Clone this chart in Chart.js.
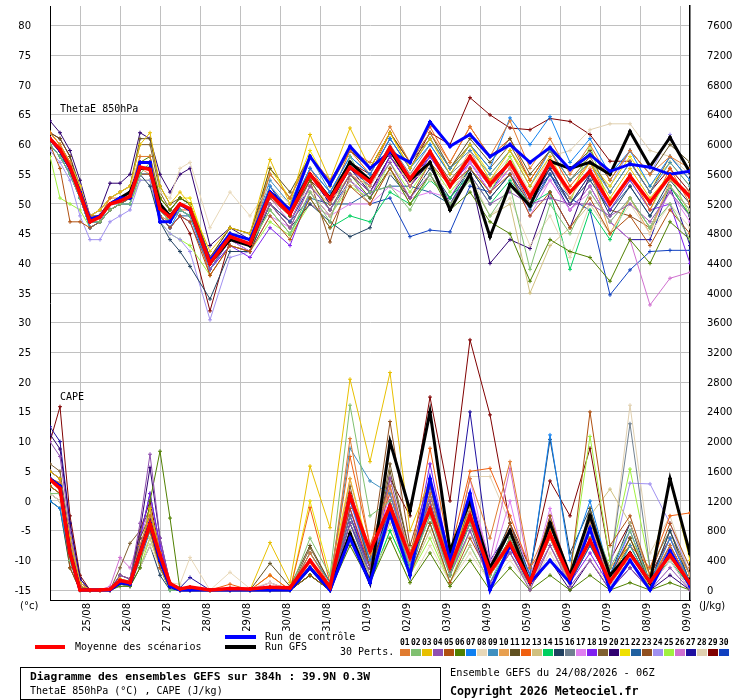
<!DOCTYPE html>
<html>
<head>
<meta charset="utf-8">
<script src="https://cdn.jsdelivr.net/npm/chart.js@4.4.0/dist/chart.umd.min.js"></script>
<style>
  body { margin: 0; background: #fff; }
  #wrap { width: 740px; height: 700px; }
</style>
</head>
<body>
<div id="wrap"><canvas id="gefs" width="740" height="700"></canvas></div>
<script>
// GEFS ensemble 24/08/2026 06Z, 39.9N 0.3W : ThetaE 850hPa (°C) and CAPE (J/kg)
// forecast hours (6h steps up to 84h, then 12h)
const hours = [0,6,12,18,24,30,36,42,48,54,60,66,72,78,84,96,108,120,132,144,156,168,180,192,204,216,228,240,252,264,276,288,300,312,324,336,348,360,372,384];
const dayHours = [18,42,66,90,114,138,162,186,210,234,258,282,306,330,354,378];
const dayLabels = ["25/08","26/08","27/08","28/08","29/08","30/08","31/08","01/09","02/09","03/09","04/09","05/09","06/09","07/09","08/09","09/09"];
const thetaTicks = [-15,-10,-5,0,5,10,15,20,25,30,35,40,45,50,55,60,65,70,75,80];
const capeTicks = [0,400,800,1200,1600,2000,2400,2800,3200,3600,4000,4400,4800,5200,5600,6000,6400,6800,7200,7600];

// mean, control, GFS
const thetaMean = [61,59.2,56.2,51.7,47,47.8,50,50.5,51.3,56.2,55.8,49.2,47.8,50,49.2,40,44.5,43.3,51.7,48.3,55,50.8,56.2,53.7,59.5,54.2,58.8,53,58,53.3,57,51.2,57,52,55.5,50,54.7,50.3,54.7,51.2];
const thetaCtrl = [61,59,56,52,47.5,48,50,51,51,57,57,47,47,50,49,40.5,45,44,52,49,58,53.3,59.7,56,58.8,57,63.8,59.7,61.7,58,60,57,59.5,55.8,58.3,55.5,56.7,56.2,55,55.5];
const thetaGfs = [61,59,56,52,47,48,50,51,52,56,56,50,48,50,49,40,44,43,52,49,55,51,57,54,59,54,57,49,55,44.5,53.3,49.7,57.2,56,57,55,62.2,56.3,61.2,55.3];
const capeMean = [1490,1370,500,0,0,0,10,130,100,490,890,470,90,15,40,0,20,15,40,30,400,40,1270,530,1130,440,1090,310,1000,240,630,110,760,160,670,110,490,110,470,90];
const capeCtrl = [1500,1400,500,0,0,0,0,100,80,500,900,400,50,0,0,0,0,0,0,0,300,0,700,100,1030,200,1500,400,1300,0,600,100,400,100,830,0,400,0,530,50];
const capeGfs = [1500,1400,500,0,0,0,0,100,80,500,900,400,50,0,0,0,0,0,0,0,300,0,760,100,2000,1070,2400,530,1200,300,800,100,900,200,1000,200,500,100,1500,490];

// perturbations ThetaE
const theta01 = [62,60,57,52,48,48,51,51,52,58,58,50,48,50,49, 41,45,44, 55,51,58,54,59,57,63,57,62,57, 63,58,64,56,61,55,60,54,59,55,58,56];
const theta02 = [60,58,55,51,47,47,49,50,50,55,57,49,47,49,48, 40,44,43, 49,45,52,47,58,52,53,49,55,50, 54,48,53,39,50,45,52,47,51,46,50,44];
const theta03 = [62,60,57,53,48,49,51,52,53,60,62,53,50,52,50, 42,46,45, 57.5,50,61.7,54,62.8,56,62,56,61,55, 60,54,59,53,58,52,57,51,56,51,55,51];
const theta04 = [61,59,56,52,47,48,50,51,51,57,57,50,48,50,49, 39,44,43, 50,46,53,49,55,52,57,51,55,50, 55,50,52,50,51,50,50,48,50,47,52,48];
const theta05 = [60,56,47,47,46,47,49,50,51,55,55,48,46,48,47, 38,43,42, 48,44,51,46,53,50,56,51,57,53, 56,52,55,48,52,46,51,45,48,43,49,45];
const theta06 = [61,59,57,52,48,48,50,51,52,57,58,51,49,51,50, 41,45,44, 52,48,54,49,55,51,56,50,55,49, 52,47,45,37,44,42,41,37,44,40,47,44];
const theta07 = [60,58,55,51,46,47,49,50,50,55,55,48,46,49,48, 39,44,43, 53,49,56,52,58,55,61,56,60,55, 60,56,64.5,60,64.7,57,61,55,59,53,58,54];
const theta08 = [61,59,57,53,48,49,51,52,53,58,58,52,51,56,57, 46,52,48, 53,50,52,51,53,54,55,55,54,53, 55,48,51,43,48,41,50,45,50,45,50,46];
const theta09 = [61,59,56,52,47,47,50,50,51,56,56,49,47,49,48, 40,45,44, 54,50,58,52,58,55,61,56,61,56, 59,55,59,53,59,54,57,52,57,52,57,53];
const theta10 = [62,60,57,52,47,48,50,51,51,56,55,48,47,50,49, 40,44,43, 50,46,53,50,55,53,59,53,59,53, 59,53,56,50,57,51,56,45,51,45,54,52];
const theta11 = [62,61,58,53,48,49,51,52,53,61,61,53,50,51,50, 41,46,45, 56,52,58,54,59,56,62,57,62,56, 61,57,61,55,59,56,59,54,59,55,60,57];
const theta12 = [61,59,56,52,47,48,50,51,52,56,56,50,47,49,49, 38,43,42, 52,48,56,51,59,55,62,57,63,57, 63,58,61,54,59,53,57,50,55,49,56,50];
const theta13 = [60,58,55,51,46,47,49,50,50,55,55,48,47,49,48, 39,44,43, 49,45,52,48,54,50,56,50,55,50, 54,48,50,35,43,46,50,45,51,46,53,49];
const theta14 = [60,58,56,51,47,47,49,50,51,55,55,49,47,49,48, 39,44,43, 49,45,51,46,48,47,52,50,54,51, 55,50,54,50,52,39,49,44,51,46,53,48];
const theta15 = [60,58,55,51,46,47,49,50,51,55,53,47,44,42,39.5, 34,42,42, 50,46,50,47,44.5,46,55,51,56,51, 56,51,55,50,56,50,55,48,53,48,54,50];
const theta16 = [61,59,56,52,47,48,50,51,51,56,56,49,47,50,49, 40,45,44, 53,49,56,52,57,54,60,55,60,55, 58,53,57,51,57,52,55,50,55,50,55,51];
const theta17 = [61,59,56,51,46,47,49,50,50,55,55,48,46,48,47, 40,44,42, 48,46,50,48,50,50,53,51,52,51, 57,52,56,48,54,49,52,47,51,46,52,47];
const theta18 = [60,58,55,51,47,47,49,50,50,55,55,48,47,49,48, 39,43,41, 46,43,52,48,54,51,58,53,58,53, 57,52,56,50,56,50,55,49,54,49,50,40];
const theta19 = [62,60,57,53,48,49,51,52,53,60,60,52,49,51,50, 41,46,45, 55,51,58,53,59,56,62,57,61,56, 60,56,60,54,59,54,58,52,57,52,58,54];
const theta20 = [64,62,59,54,48,49,53.5,53.5,55,62,61,55,52,55,56, 43,46,44, 53,48,55,50,56,52,58,53,57,50, 55,40,44,42.5,52,46,55,50,55,50,55,51];
const theta21 = [62,60,57,52,48,48,51,52,53,58,58,51,49,51,51, 41,45,44, 56,51,59,53,59,56,62,56,61,56, 60,55,59,54,59,54,57,53,58,53,57,53];
const theta22 = [61,59,56,51,46,47,49,50,51,55,55,48,46,48,48, 39,44,42, 50,47,51,50,50,52,53,53,52,50, 56,51,55,49,55,50,54,49,53,48,53,49];
const theta23 = [61,59,56,52,47,48,50,51,51,57,57,50,48,50,49, 40,44,43, 51,48,54,43.6,55,52,58,54,59,54, 58,54,57,51,56,50,54,49,48,46,53,48];
const theta24 = [59,57,54,48,44,44,47,48,49,54,54,47,45,44,42, 30.5,41,42, 50,46,53,49,55,52,58,53,58,53, 57,53,57,51,56,52,56,53,59,55,61.7,55];
const theta25 = [58,51,50,49,46,47,49,50,50,54,54,47,45,44,43, 38,43,42, 47,44.7,50,48,53,51,57,52,57,52, 56,52,58,51,56,50,60,49,54,49,55,48];
const theta26 = [60,58,55,51,47,47,49,50,51,56,56,49,47,49,48, 40,44,42, 51,47,54,49,55,52,58,53,58,53, 57,52,56,50,54,49,53,47,44,33,37.5,38.5];
const theta27 = [61,59,56,52,47,48,50,51,52,57,57,51,49,51,50, 41,45,44, 52,48,55,50,56,53,59,54,58,53, 58,53,57,51,55,49,53,47,44,44,53,43];
const theta28 = [61,59,56,52,47,48,50,51,52,57,57,50,48,50,49, 40,45,44, 52,48,55,51,56,54,59,54,59,54, 58,54,58,52,58,59,62.5,63.5,63.5,59,58,55];
const theta29 = [62,61,58,52,47,47,49,50,51,56,56,48,46,48,45, 32,44,43, 50,47,54,51,57,55,61,56,62,60, 67.9,65,62.8,62.5,64.4,63.9,61.7,57.2,57.2,52,56,52];
const theta30 = [60,58,55,51,46,47,49,50,50,55,55,48,46,48,47, 39,43,42, 50,47,53,49,54,50,51,44.5,45.6,45.3, 53,52,57,50,55,51,48.9,34.7,38.9,42,42.2,42.2];

// perturbations CAPE (J/kg)
const cape01 = [1500,1450,600,60,0,0,0,100,80,600, 1000,500,50,0,0,0,0,0,40,0, 500,60,2040,600,1400,400,1300,300,1500,700, 1730,300,900,100,800,150,500,100,600,100];
const cape02 = [1300,1300,400,0,0,0,0,80,60,400, 900,400,0,0,0,0,0,0,0,0, 700,200,2490,1000,1200,300,1000,200,900,200, 700,100,900,200,1000,300,800,100,500,50];
const cape03 = [1600,1500,700,100,0,0,0,150,100,500, 1100,500,100,0,0,0,0,0,640,100, 1670,840,2840,1730,2930,800,1500,300,1200,200, 600,100,800,100,700,100,400,50,500,100];
const cape04 = [2000,1800,800,100,0,0,20,200,150,900, 1830,700,100,0,0,0,0,0,0,0, 300,0,900,300,1510,400,1200,200,800,100, 500,0,600,50,400,0,300,0,300,0];
const cape05 = [1400,1300,300,0,0,0,0,100,80,500, 800,300,50,0,0,0,0,0,0,0, 200,0,1100,300,1000,200,900,100,700,200, 900,100,1000,200,2400,600,1000,200,900,300];
const cape06 = [1500,1400,600,50,0,0,0,50,50,300, 1200,1870,970,0,0,0,0,0,0,0, 200,0,600,100,700,100,500,50,400,0, 300,0,200,0,200,0,100,0,100,0];
const cape07 = [1200,1100,400,0,0,0,0,100,100,500, 900,400,50,0,0,0,0,0,0,0, 300,0,1200,400,1000,300,1300,400,1200,300, 800,200,2090,400,1200,200,800,100,700,100];
const cape08 = [1300,1200,500,50,0,0,0,150,100,300, 600,300,100,80,440,0,240,20,100,0, 300,50,600,200,700,100,600,100,500,100, 400,50,500,50,400,50,500,50,400,0];
const cape09 = [1500,1400,500,0,0,0,0,100,80,600, 900,400,0,0,0,0,0,0,0,0, 500,100,1910,1470,1300,400,1100,300,1000,200, 800,100,900,100,700,100,600,100,500,50];
const cape10 = [1400,1300,500,50,0,0,0,100,80,500, 800,300,0,0,0,0,0,0,0,0, 400,50,1500,400,1400,500,1300,300,1100,200, 600,100,700,100,900,200,400,50,700,200];
const cape11 = [1600,1500,600,50,0,0,0,200,150,700, 1000,500,100,0,0,0,0,0,360,50, 600,100,1300,300,1600,500,1200,300,1000,200, 700,100,800,100,1100,200,700,100,600,100];
const cape12 = [1500,1400,500,0,0,0,0,150,120,600, 900,400,50,0,0,0,80,0,200,0, 1110,100,1800,600,1300,400,1910,500,1600,1640, 1000,300,700,200,800,300,600,300,1000,1040];
const cape13 = [1300,1200,400,0,0,0,0,100,80,400, 700,300,50,0,0,0,0,0,0,0, 300,0,800,200,900,200,800,100,600,100, 500,50,600,100,1000,1360,900,200,500,100];
const cape14 = [1400,1300,500,50,0,0,0,100,80,500, 800,300,0,0,0,0,0,0,0,0, 200,0,700,100,800,200,900,100,600,100, 600,50,900,100,700,100,600,100,400,50];
const cape15 = [1200,1100,300,0,0,0,0,80,50,300, 600,200,0,0,0,0,0,0,0,0, 200,0,900,300,1000,300,1100,200,1200,300, 900,200,2030,500,1100,200,900,100,800,100];
const cape16 = [1400,1300,500,0,0,0,0,100,80,500, 900,400,50,0,0,0,0,0,0,0, 300,0,1000,200,1100,300,1000,200,1000,200, 700,100,1000,100,900,300,2240,300,800,100];
const cape17 = [1500,1400,600,50,0,0,0,150,100,600, 1000,400,50,0,0,0,0,0,100,0, 400,50,1200,300,1300,300,1300,300,1500,300, 1200,100,1100,100,900,100,800,100,700,100];
const cape18 = [1600,1500,700,100,0,0,0,150,100,700, 1300,600,100,0,0,0,0,0,0,0, 300,0,1100,200,1400,300,1700,400,1300,200, 700,100,600,100,500,50,500,50,400,0];
const cape19 = [1700,1600,700,100,0,0,0,300,630,800, 1100,500,100,0,0,0,0,0,0,0, 570,100,1400,300,1700,500,1400,300,1100,200, 800,100,900,100,1000,200,700,100,800,200];
const cape20 = [2100,1900,900,150,0,0,0,200,150,800, 1650,700,100,0,0,0,0,0,0,0, 200,0,800,200,1200,300,1300,300,900,100, 500,50,400,0,400,0,300,0,200,0];
const cape21 = [1400,1300,500,50,0,0,0,100,80,500, 900,400,50,0,0,0,0,0,200,0, 1200,200,1500,500,1300,300,1200,200,1000,200, 700,100,800,100,800,100,700,200,1490,400];
const cape22 = [1300,1200,400,0,0,0,0,80,60,400, 800,300,0,0,0,0,0,0,0,0, 200,0,900,200,1000,200,1100,200,900,200, 600,100,700,100,600,100,500,100,500,50];
const cape23 = [1500,1400,600,50,0,0,0,150,100,600, 1000,400,50,0,0,0,0,0,100,0, 500,100,1300,400,2270,600,1500,300,1100,200, 800,100,900,100,800,200,600,100,700,200];
const cape24 = [1300,1200,400,0,0,0,0,100,80,400, 800,300,0,0,0,0,0,0,0,0, 300,0,900,200,1000,200,900,200,800,100, 700,100,800,100,900,300,1440,1430,900,200];
const cape25 = [1200,1100,300,0,0,0,0,80,60,300, 700,300,0,0,0,0,0,0,0,0, 200,0,700,100,800,200,700,100,800,200, 600,100,700,200,2070,400,1630,300,800,100];
const cape26 = [1600,1500,700,100,0,0,50,440,300,700, 1100,500,50,0,0,0,0,0,200,0, 400,50,1100,300,1200,300,1100,200,1300,400, 1640,200,900,100,800,100,700,100,600,100];
const cape27 = [2200,2000,900,150,0,0,0,150,100,700, 1300,600,100,30,170,0,0,0,0,0, 300,0,1000,300,1100,300,1400,400,2400,400, 800,100,700,100,600,100,500,100,500,50];
const cape28 = [1300,1200,400,0,0,0,0,100,80,400, 700,300,50,0,0,0,0,0,0,0, 300,0,900,200,1000,200,900,200,1530,1530, 900,200,800,200,1000,300,2490,500,1000,200];
const cape29 = [2000,2470,1000,200,0,0,0,150,100,800, 1200,500,50,0,0,0,0,0,0,0, 400,0,1200,400,1500,1000,2600,1200,3370,2360, 900,300,1470,1000,1910,400,900,200,700,100];
const cape30 = [1400,1300,500,50,0,0,0,100,80,500, 900,400,50,0,0,0,0,0,0,0, 300,0,1000,300,1200,300,1300,300,1100,200, 700,100,800,100,700,100,500,50,600,100];

const pertColors = ["#e07b30","#80c070","#e8c000","#9050b0","#b05010","#508000","#1080f0","#e8d8b8","#4090c0","#e8a050",
                    "#605020","#f06010","#d0c080","#00d060","#204060","#708090","#e080f0","#8020f0","#806030","#300070",
                    "#f0e000","#2060a0","#905020","#a090f0","#a0f040","#d070d0","#2010a0","#e0d0b0","#800000","#1040c0"];

const thetaPerts = [theta01,theta02,theta03,theta04,theta05,theta06,theta07,theta08,theta09,theta10,theta11,theta12,theta13,theta14,theta15,
                    theta16,theta17,theta18,theta19,theta20,theta21,theta22,theta23,theta24,theta25,theta26,theta27,theta28,theta29,theta30];
const capePerts = [cape01,cape02,cape03,cape04,cape05,cape06,cape07,cape08,cape09,cape10,cape11,cape12,cape13,cape14,cape15,
                   cape16,cape17,cape18,cape19,cape20,cape21,cape22,cape23,cape24,cape25,cape26,cape27,cape28,cape29,cape30];

const pts = arr => hours.map((h, i) => ({ x: h, y: arr[i] }));

function line(label, arr, color, width, axis) {
  return {
    label: label, data: pts(arr), yAxisID: axis,
    borderColor: color, backgroundColor: color, borderWidth: width,
    pointStyle: 'cross', pointRadius: 2, pointBorderWidth: width > 1 ? 2 : 1,
    pointBorderColor: color, tension: 0, fill: false
  };
}

// index 0 is drawn last (on top)
const datasets = [
  line('Moyenne ThetaE', thetaMean, '#ff0000', 3.5, 'y'),
  line('Moyenne CAPE', capeMean, '#ff0000', 3.5, 'yr'),
  line('Controle ThetaE', thetaCtrl, '#0000ff', 3, 'y'),
  line('Controle CAPE', capeCtrl, '#0000ff', 3, 'yr'),
  line('GFS ThetaE', thetaGfs, '#000000', 3, 'y'),
  line('GFS CAPE', capeGfs, '#000000', 3, 'yr')
];
thetaPerts.forEach((a, i) => datasets.push(line('P' + (i + 1) + ' ThetaE', a, pertColors[i], 1, 'y')));
capePerts.forEach((a, i) => datasets.push(line('P' + (i + 1) + ' CAPE', a, pertColors[i], 1, 'yr')));

const mono = "'DejaVu Sans Mono'";

const decor = {
  id: 'decor',
  afterDraw(chart) {
    const ctx = chart.ctx, xs = chart.scales.x;
    ctx.save();
    ctx.fillStyle = '#000';
    ctx.textBaseline = 'middle';

    // day labels, vertical
    ctx.font = "10px 'DejaVu Sans'";
    dayLabels.forEach((lab, i) => {
      const px = xs.getPixelForValue(dayHours[i]) + 7;
      ctx.save();
      ctx.translate(px, 603);
      ctx.rotate(-Math.PI / 2);
      ctx.textAlign = 'right';
      ctx.fillText(lab, 0, 0);
      ctx.restore();
    });

    ctx.textAlign = 'left';
    ctx.font = "10px " + mono;
    ctx.fillText('ThetaE 850hPa', 60, 109);
    ctx.fillText('CAPE', 60, 397);
    ctx.font = "10px 'DejaVu Sans'";
    ctx.fillText('(°c)', 20, 606);
    ctx.fillText('(J/kg)', 699, 606);

    // legend
    ctx.fillStyle = '#ff0000'; ctx.fillRect(35, 645, 30, 4);
    ctx.fillStyle = '#0000ff'; ctx.fillRect(225, 635, 31, 4);
    ctx.fillStyle = '#000000'; ctx.fillRect(225, 645, 31, 4);
    ctx.font = "10px " + mono;
    ctx.fillText('Moyenne des scénarios', 75, 647);
    ctx.fillText('Run de contrôle', 265, 637);
    ctx.fillText('Run GFS', 265, 647);
    ctx.fillText('30 Perts.', 340, 652);

    ctx.font = "bold 8px " + mono;
    pertColors.forEach((c, i) => {
      const x0 = 400 + i * 11;
      ctx.fillStyle = '#000';
      ctx.fillText(String(i + 1).padStart(2, '0'), x0, 643);
      ctx.fillStyle = c;
      ctx.fillRect(x0, 649, 10, 7);
    });

    // info box
    ctx.strokeStyle = '#000'; ctx.lineWidth = 1;
    ctx.strokeRect(20.5, 667.5, 420, 32);
    ctx.fillStyle = '#000';
    ctx.font = "bold 11.3px " + mono;
    ctx.fillText('Diagramme des ensembles GEFS sur 384h : 39.9N 0.3W', 30, 677);
    ctx.font = "10px " + mono;
    ctx.fillText('ThetaE 850hPa (°C) , CAPE (J/kg)', 30, 691);
    ctx.font = "10.3px " + mono;
    ctx.fillText('Ensemble GEFS du 24/08/2026 - 06Z', 450, 673);
    ctx.font = "bold 11.6px " + mono;
    ctx.fillText('Copyright 2026 Meteociel.fr', 450, 692);
    ctx.restore();
  }
};

new Chart('gefs', {
  type: 'line',
  data: { datasets: datasets },
  options: {
    responsive: false,
    animation: false,
    devicePixelRatio: 1,
    layout: { padding: 0 },
    plugins: { legend: { display: false }, tooltip: { enabled: false }, title: { display: false } },
    elements: { line: { borderJoinStyle: 'miter' } },
    scales: {
      x: {
        type: 'linear', min: 0, max: 384,
        afterBuildTicks: s => { s.ticks = dayHours.map(v => ({ value: v })); },
        afterFit: s => { s.height = 100; s.paddingLeft = 0; s.paddingRight = 0; },
        ticks: { display: false },
        grid: { color: '#c0c0c0', drawTicks: false },
        border: { color: '#000', width: 1 }
      },
      y: {
        position: 'left', min: -15 - 10 / 6, max: 80 + 20 / 6,
        afterBuildTicks: s => { s.ticks = thetaTicks.map(v => ({ value: v })); },
        afterFit: s => { s.width = 50; s.paddingTop = 0; s.paddingBottom = 0; },
        ticks: { padding: 19, color: '#000', labelOffset: 1, font: { family: 'DejaVu Sans', size: 10 }, callback: v => String(v) },
        grid: { color: '#c0c0c0', drawTicks: false },
        border: { color: '#000', width: 1 }
      },
      yr: {
        position: 'right', min: -400 / 3, max: 7600 + 800 / 3,
        afterBuildTicks: s => { s.ticks = capeTicks.map(v => ({ value: v })); },
        afterFit: s => { s.width = 50; s.paddingTop = 0; s.paddingBottom = 0; },
        ticks: { padding: 17, color: '#000', labelOffset: 1, font: { family: 'DejaVu Sans', size: 10 }, callback: v => String(v) },
        grid: { display: false, drawTicks: false },
        border: { color: '#000', width: 1.5 }
      }
    }
  },
  plugins: [decor]
});
</script>
</body>
</html>
